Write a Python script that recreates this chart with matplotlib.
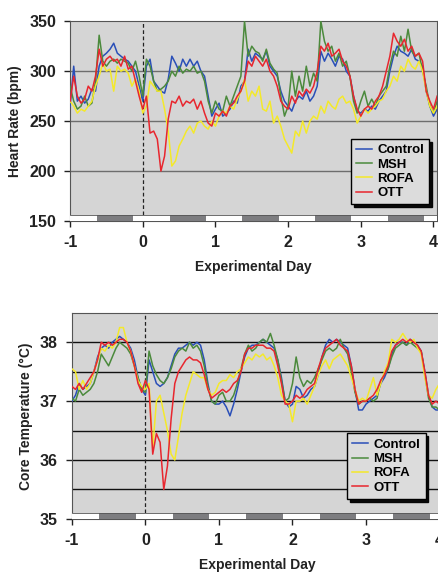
import matplotlib
matplotlib.use('Agg')
import matplotlib.pyplot as plt
import numpy as np

plt.rcParams['font.family'] = ['Liberation Sans', 'DejaVu Sans']
plt.rcParams['font.weight'] = 'bold'
plt.rcParams['axes.unicode_minus'] = False

# time axis in experimental days (sample every 0.05 day)
days = np.round(np.arange(-1.0, 4.051, 0.05), 2)

series_names = ['Control', 'MSH', 'ROFA', 'OTT']
series_colors = ['#2a4fb8', '#4b8a3c', '#f4e92a', '#e8262e']

# heart rate (bpm)
hr_control = [265, 305, 270, 275, 268, 272, 282, 280, 305, 315, 318, 322, 328, 318, 315, 312, 310, 305, 300, 285,
              270, 305, 312, 290, 285, 280, 278, 292, 315, 308, 300, 312, 305, 312, 305, 310, 300, 295, 275, 255,
              262, 268, 255, 258, 262, 270, 268, 285, 290, 322, 310, 318, 315, 312, 320, 305, 300, 295, 280, 270,
              265, 260, 270, 275, 272, 280, 270, 275, 285, 320, 310, 318, 312, 305, 315, 312, 300, 295, 275, 260,
              258, 262, 260, 265, 262, 270, 275, 280, 300, 315, 325, 320, 318, 315, 322, 312, 310, 305, 280, 265,
              255, 262]
hr_msh = [285, 270, 262, 265, 275, 265, 268, 290, 336, 310, 305, 310, 312, 308, 312, 310, 308, 300, 310, 295,
          275, 312, 305, 290, 280, 282, 285, 290, 300, 295, 305, 298, 302, 300, 305, 298, 300, 290, 270, 258,
          270, 262, 260, 275, 265, 275, 285, 295, 350, 315, 325, 320, 318, 310, 322, 308, 302, 298, 275, 255,
          265, 300, 275, 295, 280, 305, 285, 298, 290, 350, 330, 320, 325, 310, 318, 305, 310, 295, 270, 258,
          270, 280, 265, 272, 265, 275, 280, 285, 305, 320, 315, 335, 320, 342, 320, 315, 318, 300, 285, 265,
          258, 270]
hr_rofa = [270, 265, 258, 262, 260, 265, 270, 285, 295, 308, 300, 302, 280, 305, 300, 302, 298, 285, 292, 280,
           258, 265, 290, 285, 280, 280, 262, 240, 205, 210, 225, 232, 240, 245, 238, 248, 250, 245, 242, 250,
           245, 255, 260, 258, 265, 262, 272, 280, 292, 270, 280, 275, 285, 262, 260, 270, 248, 255, 245, 232,
           225, 218, 240, 235, 250, 238, 250, 255, 252, 265, 258, 270, 265, 262, 272, 275, 268, 270, 262, 248,
           255, 262, 258, 262, 265, 270, 272, 280, 285, 295, 290, 305, 300, 312, 305, 302, 310, 300, 280, 265,
           258, 265]
hr_ott = [270, 295, 275, 268, 272, 285, 280, 295, 322, 305, 312, 315, 310, 312, 305, 315, 302, 305, 290, 275,
          262, 275, 238, 240, 232, 200, 215, 252, 270, 268, 275, 265, 270, 268, 272, 262, 270, 258, 248, 245,
          258, 255, 260, 255, 265, 268, 275, 280, 290, 310, 305, 315, 310, 305, 312, 300, 295, 285, 270, 265,
          262, 275, 268, 280, 275, 282, 278, 285, 300, 325, 320, 328, 315, 318, 322, 310, 305, 295, 275, 262,
          255, 262, 265, 262, 270, 275, 285, 300, 315, 338, 330, 325, 332, 320, 325, 315, 318, 310, 280, 270,
          262, 275]

# core temperature (deg C)
ct_control = [37.0, 37.1, 37.3, 37.2, 37.25, 37.3, 37.5, 37.75, 37.9, 37.95, 37.9, 38.0, 38.05, 38.1, 38.05, 38.0, 37.9, 37.7, 37.4, 37.2,
              37.1, 37.7, 37.5, 37.3, 37.25, 37.3, 37.4, 37.6, 37.8, 37.9, 37.9, 37.95, 38.0, 37.95, 38.0, 37.95, 37.7, 37.3, 37.0, 36.95,
              36.95, 37.0, 36.9, 36.75, 36.95, 37.2, 37.5, 37.75, 37.9, 37.95, 37.95, 38.0, 38.05, 38.0, 37.95, 37.9, 37.7, 37.4, 37.0, 36.9,
              36.95, 37.25, 37.2, 37.05, 37.1, 37.2, 37.25, 37.45, 37.75, 37.95, 38.05, 38.0, 38.05, 38.0, 37.95, 37.9, 37.6, 37.2, 36.85, 36.85,
              36.95, 37.0, 37.05, 37.1, 37.3, 37.4, 37.55, 37.8, 37.95, 38.0, 38.0, 37.95, 38.05, 38.0, 37.95, 37.85, 37.5, 37.1, 36.9, 36.85,
              36.85, 36.9]
ct_msh = [37.05, 37.0, 37.2, 37.1, 37.15, 37.2, 37.3, 37.5, 37.8, 37.7, 37.6, 37.75, 37.9, 38.0, 37.95, 37.9, 37.8, 37.6, 37.4, 37.2,
          37.15, 37.85, 37.6, 37.45, 37.35, 37.3, 37.4, 37.55, 37.75, 37.85, 37.9, 37.85, 38.0, 37.9, 37.95, 37.85, 37.6, 37.25, 37.0, 36.95,
          37.1, 37.15, 37.0, 37.0, 37.1, 37.3, 37.55, 37.8, 37.95, 37.85, 37.9, 38.0, 38.05, 38.0, 38.15, 37.95, 37.7, 37.35, 37.0, 37.05,
          37.3, 37.75, 37.4, 37.25, 37.35, 37.3, 37.4, 37.55, 37.7, 37.85, 37.9, 37.85, 37.9, 38.05, 37.9, 37.8, 37.5, 37.15, 36.95, 37.0,
          37.0, 37.05, 37.0, 37.05, 37.35, 37.45, 37.55, 37.75, 37.9, 37.95, 38.0, 37.95, 38.0, 37.95, 37.9, 37.85, 37.45, 37.05, 36.9, 36.9,
          36.85, 36.95]
ct_rofa = [37.55, 37.5, 37.2, 37.35, 37.2, 37.3, 37.5, 37.7, 37.9, 37.85, 37.95, 37.9, 38.0, 38.25, 38.25, 38.0, 37.85, 37.6, 37.35, 37.25,
           37.2, 37.3, 36.2, 37.0, 37.1, 36.8, 36.5, 36.1, 36.0, 36.4, 36.8, 37.1, 37.3, 37.5, 37.45, 37.4, 37.4, 37.2, 37.1, 37.15,
           37.3, 37.35, 37.35, 37.45, 37.4, 37.5, 37.55, 37.65, 37.75, 37.7, 37.8, 37.75, 37.8, 37.7, 37.75, 37.6, 37.4, 37.1, 37.0, 36.95,
           36.65, 37.0, 37.0, 37.05, 36.95, 37.1, 37.25, 37.45, 37.6, 37.7, 37.55, 37.7, 37.75, 37.8, 37.7, 37.6, 37.4, 37.2, 37.0, 37.05,
           37.0, 37.2, 37.4, 37.1, 37.3, 37.5, 37.65, 38.05, 38.0, 38.05, 38.15, 38.05, 38.0, 38.05, 37.9, 37.8, 37.4, 37.1, 37.05, 37.2,
           37.3, 37.2]
ct_ott = [37.25, 37.2, 37.3, 37.2, 37.3, 37.4, 37.5, 37.7, 38.0, 37.95, 38.0, 37.95, 38.0, 38.05, 38.05, 38.0, 37.85, 37.6, 37.3, 37.15,
          37.35, 37.2, 36.1, 36.45, 36.3, 35.5, 35.9, 36.7, 37.3, 37.5, 37.6, 37.7, 37.75, 37.7, 37.7, 37.65, 37.45, 37.2, 37.05, 37.1,
          37.15, 37.2, 37.15, 37.2, 37.3, 37.35, 37.5, 37.8, 37.9, 37.9, 37.95, 37.95, 37.95, 37.9, 37.9, 37.85, 37.6, 37.3, 36.95, 36.95,
          37.0, 37.1, 37.05, 37.1, 37.2, 37.25, 37.3, 37.55, 37.75, 37.9, 37.95, 38.0, 38.05, 37.95, 37.9, 37.85, 37.6, 37.2, 36.95, 37.0,
          37.0, 37.05, 37.1, 37.2, 37.35, 37.45, 37.6, 37.85, 37.95, 38.0, 38.05, 38.0, 38.05, 38.0, 37.95, 37.85, 37.5, 37.1, 36.95, 37.0,
          36.95, 37.0]

# dark phases of the light cycle (start day, length)
dark_starts = [-0.63, 0.37, 1.37, 2.37, 3.37]
dark_len = 0.5


def draw_panel(ax, data, ylim, yticks, grid_vals, grid_color, bar_h, ylabel, legend_anchor):
    ax.set_facecolor('#d5d5d5')
    for g in grid_vals:
        ax.axhline(g, color=grid_color, lw=1.0, zorder=1)
    ax.axvline(0, color='#222222', lw=0.9, ls=(0, (3, 2)), zorder=2)
    for vals, name, col in zip(data, series_names, series_colors):
        ax.plot(days, vals, color=col, lw=1.1, label=name, zorder=3)

    # light / dark bar along the bottom
    y0 = ylim[0]
    ax.broken_barh([(-1.0, 5.2)], (y0, bar_h), facecolors='white', edgecolor='none', zorder=4)
    ax.broken_barh([(s, dark_len) for s in dark_starts], (y0, bar_h),
                   facecolors='#7d7d80', edgecolor='none', zorder=5)
    ax.axhline(y0 + bar_h, color='#555555', lw=0.6, zorder=5)

    ax.set_xlim(-0.96, 4.05)
    ax.set_ylim(*ylim)
    ax.set_xticks([-1, 0, 1, 2, 3, 4])
    ax.set_yticks(yticks)
    ax.tick_params(labelsize=11.5, length=4, width=1, colors='#222222', pad=6)
    for lab in ax.get_xticklabels() + ax.get_yticklabels():
        lab.set_fontweight('bold')
    ax.set_xlabel('Experimental Day', fontsize=10, fontweight='bold', color='#222222', labelpad=7)
    ax.set_ylabel(ylabel, fontsize=10, fontweight='bold', color='#222222', labelpad=5)
    for sp in ax.spines.values():
        sp.set_color('#555555')
    leg = ax.legend(loc='lower right', bbox_to_anchor=legend_anchor, frameon=True, fancybox=False,
                    shadow={'color': 'black', 'alpha': 0.95}, edgecolor='black', facecolor='#dcdcdc',
                    framealpha=1, handlelength=1.2, handletextpad=0.4, labelspacing=0.15,
                    borderpad=0.4, prop={'weight': 'bold', 'size': 9.5})
    leg.get_frame().set_linewidth(1.0)
    leg.set_zorder(10)


fig = plt.figure(figsize=(4.38, 5.74), dpi=100)

ax1 = fig.add_axes([0.160, 0.615, 0.838, 0.348])
draw_panel(ax1, [hr_control, hr_msh, hr_rofa, hr_ott], (150, 350), [150, 200, 250, 300, 350],
           [200, 250, 300], '#6e6e6e', 6, 'Heart Rate (bpm)', (0.997, 0.05))

ax2 = fig.add_axes([0.164, 0.096, 0.848, 0.359])
draw_panel(ax2, [ct_control, ct_msh, ct_rofa, ct_ott], (35, 38.5), [35, 36, 37, 38],
           [35.5, 36, 36.5, 37, 37.5, 38], '#111111', 0.1, 'Core Temperature (°C)', (0.97, 0.065))

fig.savefig('out.png', dpi=100)
